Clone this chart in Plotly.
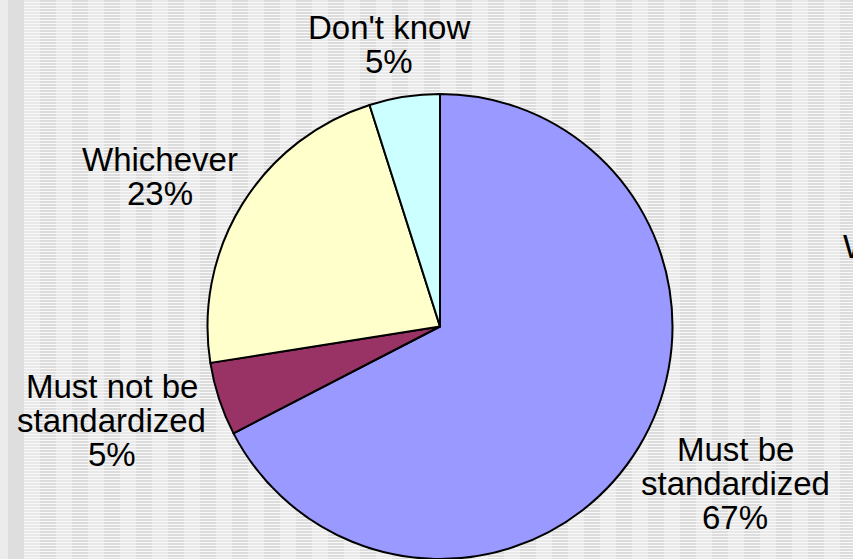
import math
import plotly.graph_objects as go

# ---- data ----
categories = ["Must be standardized", "Must not be standardized", "Whichever", "Don't know"]
values = [67.4, 5.1, 22.6, 4.9]
label_lines = [["Must be", "standardized", "67%"],
               ["Must not be", "standardized", "5%"],
               ["Whichever", "23%"],
               ["Don't know", "5%"]]
colors = ["#9999FF", "#993366", "#FFFFCC", "#CCFFFF"]

W, H = 853, 559
FONT = "Liberation Sans, Arial, sans-serif"
FS = 33
LINE_H = 34

# pie geometry (pixels)
cx, cy, R = 440.0, 326.5, 232.5
dom_x = [(cx - R) / W, (cx + R) / W]
dom_y = [0.0, (2 * R) / H]

fig = go.Figure(go.Pie(
    labels=categories, values=values, sort=False, direction="clockwise", rotation=0,
    marker=dict(colors=colors, line=dict(color="black", width=2)),
    textinfo="none", hoverinfo="label", showlegend=False,
    domain=dict(x=dom_x, y=dom_y),
))

# ---- background: slide stripes ----
shapes = []
shapes.append(dict(type="rect", xref="paper", yref="paper", x0=0, x1=8 / W, y0=0, y1=1,
                   fillcolor="#ececec", line=dict(width=0), layer="below"))
shapes.append(dict(type="rect", xref="paper", yref="paper", x0=8 / W, x1=24 / W, y0=0, y1=1,
                   fillcolor="#dedede", line=dict(width=0), layer="below"))
# lighter vertical bands
p = ""
x = 24
while x < W:
    x0, x1 = x / W, min(x + 16, W) / W
    p += f"M{x0},0 L{x1},0 L{x1},1 L{x0},1 Z "
    x += 32
shapes.append(dict(type="path", xref="paper", yref="paper", path=p,
                   fillcolor="#e9e9e9", line=dict(width=0), layer="below"))
# white horizontal lines
p = ""
y = 2
while y < H:
    y0, y1 = 1 - y / H, 1 - (y + 1) / H
    p += f"M{24 / W},{y0} L1,{y0} L1,{y1} L{24 / W},{y1} Z "
    y += 3
shapes.append(dict(type="path", xref="paper", yref="paper", path=p,
                   fillcolor="#f8f8f8", line=dict(width=0), layer="below"))

# ---- outside labels computed from slice mid-angles ----
def text_w(s):
    widths = {'M': .833, 'u': .556, 's': .5, 't': .278, ' ': .278, 'b': .556, 'e': .556,
              'a': .556, 'n': .556, 'd': .556, 'r': .333, 'i': .222, 'z': .5, 'o': .556,
              'W': .944, 'h': .556, 'c': .5, 'v': .5, 'D': .722, "'": .191, 'k': .5,
              'w': .722, '%': .889}
    return sum(widths.get(ch, .556) for ch in s) * FS

annotations = []
total = sum(values)
cum = 0
gap = 0.08 * R
for v, lines in zip(values, label_lines):
    mid = (cum + v / 2) / total * 2 * math.pi
    cum += v
    s, c = math.sin(mid), math.cos(mid)
    w = max(text_w(l) for l in lines)
    h = len(lines) * LINE_H
    ox = (R + gap) * s + w / 2 * s
    oy = (R + gap) * c + h / 2 * c  # upward positive
    n = len(lines)
    for i, line in enumerate(lines):
        annotations.append(dict(
            xref="paper", yref="paper", x=cx / W, y=1 - cy / H,
            xshift=ox, yshift=oy - (i - (n - 1) / 2) * LINE_H,
            text=line, showarrow=False, xanchor="center", yanchor="middle",
            font=dict(family=FONT, size=FS, color="black")))

# partially visible label at right edge
annotations.append(dict(xref="paper", yref="paper", x=841 / W, y=1 - 246 / H,
                        text="W", showarrow=False, xanchor="left", yanchor="middle",
                        font=dict(family=FONT, size=FS, color="black")))

fig.update_layout(
    width=W, height=H, margin=dict(l=0, r=0, t=0, b=0),
    paper_bgcolor="#dcdcdc", plot_bgcolor="#dcdcdc",
    shapes=shapes, annotations=annotations,
)

fig.write_html("out.html", config={"displayModeBar": False},
               post_script="document.body.style.margin='0';document.body.style.overflow='hidden';")
